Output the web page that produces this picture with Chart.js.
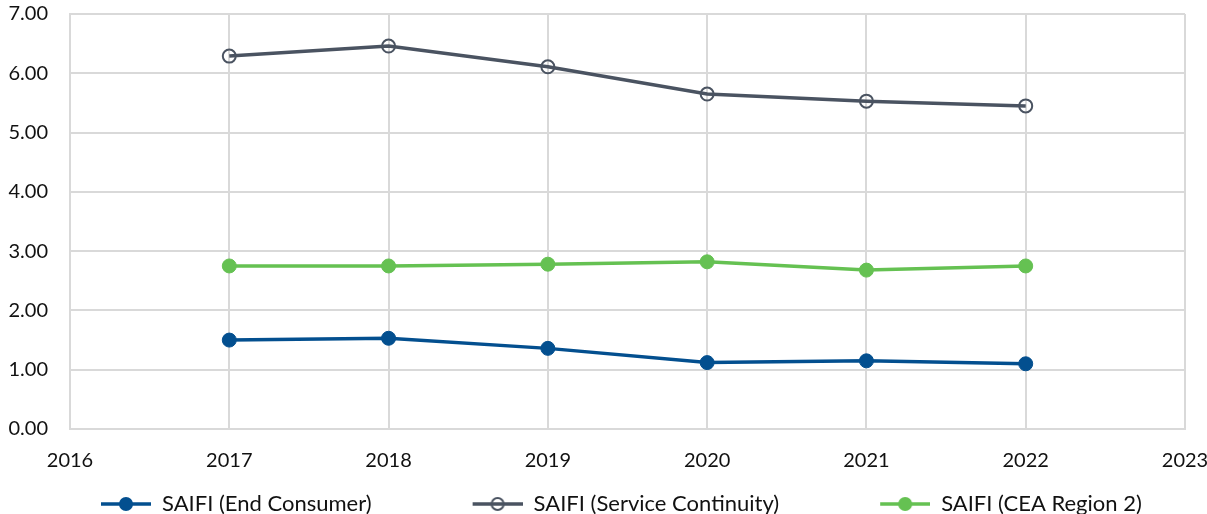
<!DOCTYPE html>
<html>
<head>
<meta charset="utf-8">
<script src="https://cdn.jsdelivr.net/npm/chart.js@4"></script>
<style>
    html, body { margin: 0; padding: 0; background: #fff; }
    #wrap { width: 1207px; height: 514px; }
</style>
</head>
<body>
<div id="wrap"><canvas id="saifiChart" width="1207" height="514"></canvas></div>
<script>
// Chart data
const years = [2017, 2018, 2019, 2020, 2021, 2022];
const endConsumer = [1.50, 1.53, 1.36, 1.12, 1.15, 1.10];
const serviceContinuity = [6.29, 6.46, 6.11, 5.65, 5.53, 5.45];
const ceaRegion2 = [2.75, 2.75, 2.78, 2.82, 2.68, 2.75];
const seriesLabels = ['SAIFI (End Consumer)', 'SAIFI (Service Continuity)', 'SAIFI (CEA Region 2)'];
const xMin = 2016, xMax = 2023;
const yMin = 0, yMax = 7;

const blue = '#034f8f';
const grey = '#4a5361';
const green = '#65c152';
const gridColor = '#d9d9d9';
const fontFamily = 'Lato, "Open Sans", sans-serif';

// Legend marker: a short line with a circle, with blank space on its left
const gapLeft = 101;
const markerLine = 50;
function legendMarker(color, hollow) {
    const c = document.createElement('canvas');
    c.width = gapLeft + markerLine;
    c.height = 18;
    const ctx = c.getContext('2d');
    ctx.strokeStyle = color;
    ctx.lineWidth = 3.5;
    ctx.beginPath();
    ctx.moveTo(gapLeft, 9);
    ctx.lineTo(gapLeft + markerLine, 9);
    ctx.stroke();
    ctx.beginPath();
    ctx.arc(gapLeft + markerLine / 2, 9, hollow ? 6 : 7, 0, Math.PI * 2);
    if (hollow) {
        ctx.lineWidth = 2;
        ctx.stroke();
    } else {
        ctx.fillStyle = color;
        ctx.fill();
    }
    return c;
}
const markers = [legendMarker(blue, false), legendMarker(grey, true), legendMarker(green, false)];

function toPoints(values) {
    return values.map((v, i) => ({ x: years[i], y: v }));
}

document.addEventListener('DOMContentLoaded', function() {
    const ctx = document.getElementById('saifiChart').getContext('2d');
    new Chart(ctx, {
        type: 'line',
        data: {
            datasets: [{
                label: seriesLabels[0],
                data: toPoints(endConsumer),
                borderColor: blue,
                backgroundColor: blue,
                borderWidth: 3.5,
                pointRadius: 7,
                pointBorderWidth: 1,
                pointBackgroundColor: blue,
                pointBorderColor: blue
            }, {
                label: seriesLabels[1],
                data: toPoints(serviceContinuity),
                borderColor: grey,
                backgroundColor: grey,
                borderWidth: 3.5,
                pointRadius: 6.5,
                pointBorderWidth: 2,
                pointBackgroundColor: 'rgba(0,0,0,0)',
                pointBorderColor: grey
            }, {
                label: seriesLabels[2],
                data: toPoints(ceaRegion2),
                borderColor: green,
                backgroundColor: green,
                borderWidth: 3.5,
                pointRadius: 7,
                pointBorderWidth: 1,
                pointBackgroundColor: green,
                pointBorderColor: green
            }]
        },
        options: {
            responsive: false,
            animation: false,
            devicePixelRatio: 1,
            layout: {
                padding: { top: 14, right: 0, left: 0, bottom: -11 }
            },
            plugins: {
                tooltip: { enabled: false },
                legend: {
                    position: 'bottom',
                    align: 'start',
                    labels: {
                        usePointStyle: true,
                        pointStyleWidth: gapLeft + markerLine,
                        padding: 0,
                        color: '#111',
                        font: { family: fontFamily, size: 22 },
                        generateLabels: function(chart) {
                            const items = Chart.defaults.plugins.legend.labels.generateLabels(chart);
                            items.forEach((item, i) => { item.pointStyle = markers[i]; });
                            return items;
                        }
                    }
                }
            },
            scales: {
                x: {
                    type: 'linear',
                    min: xMin,
                    max: xMax,
                    grid: { color: gridColor, lineWidth: 2, drawTicks: false },
                    border: { color: gridColor, width: 2 },
                    ticks: {
                        stepSize: 1,
                        padding: 20,
                        color: '#111',
                        font: { family: fontFamily, size: 20 },
                        callback: function(value) {
                            return String(value);
                        }
                    },
                    afterFit: function(scale) {
                        scale.paddingLeft = 0;
                        scale.paddingRight = 22;
                    }
                },
                y: {
                    min: yMin,
                    max: yMax,
                    grid: { color: gridColor, lineWidth: 2, drawTicks: false },
                    border: { color: gridColor, width: 2 },
                    ticks: {
                        stepSize: 1,
                        padding: 22,
                        color: '#111',
                        font: { family: fontFamily, size: 20 },
                        callback: function(value) {
                            return value.toFixed(2);
                        }
                    },
                    afterFit: function(scale) {
                        scale.width = 70;
                        scale.paddingTop = 0;
                        scale.paddingBottom = 0;
                    }
                }
            }
        }
    });
});
</script>
</body>
</html>
